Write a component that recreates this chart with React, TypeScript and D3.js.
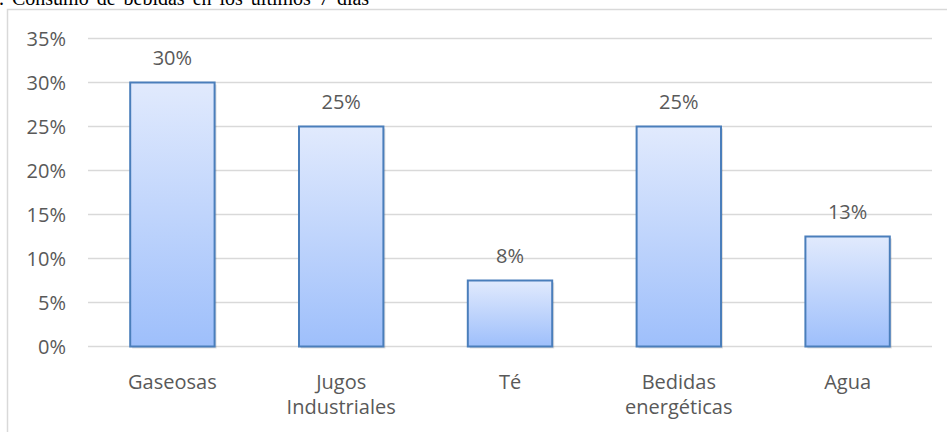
import React from "react";
import * as d3 from "d3";

const categories: string[][] = [
  ["Gaseosas"],
  ["Jugos", "Industriales"],
  ["Té"],
  ["Bedidas", "energéticas"],
  ["Agua"],
];
const values: number[] = [0.3, 0.25, 0.075, 0.25, 0.125];
const yTicks: number[] = [0, 0.05, 0.1, 0.15, 0.2, 0.25, 0.3, 0.35];
const title = ". Consumo de bebidas en los últimos 7 días";

const W = 947;
const H = 432;
const plot = { left: 88, right: 932, top: 38.5, bottom: 346.5 };
const FONT = "'Open Sans', sans-serif";
const TXT = "#595959";

export default function App() {
  const x = d3
    .scaleBand<number>()
    .domain(d3.range(values.length))
    .range([plot.left, plot.right])
    .paddingInner(0.5)
    .paddingOuter(0.25);
  const y = d3.scaleLinear().domain([0, 0.35]).range([plot.bottom, plot.top]);
  const fmt = d3.format(".0%");

  return (
    <svg
      width={W}
      height={H}
      style={{ position: "absolute", left: 0, top: 0, display: "block", background: "#fff" }}
    >
      <defs>
        <linearGradient id="barGrad" x1="0" y1="0" x2="0" y2="1">
          <stop offset="0%" stopColor="#e1eafd" />
          <stop offset="100%" stopColor="#9ebffb" />
        </linearGradient>
      </defs>
      <text
        x={-1}
        y={5}
        fontFamily="'Liberation Serif', 'Times New Roman', serif"
        fontSize={20}
        wordSpacing={3}
        fill="#000"
      >
        {title}
      </text>
      <rect x={7.5} y={9.5} width={W + 10} height={H + 10} fill="none" stroke="#d9d9d9" strokeWidth={1.5} />
      {yTicks.map((t) => (
        <g key={t}>
          <line x1={plot.left} x2={plot.right} y1={y(t)} y2={y(t)} stroke="#d9d9d9" strokeWidth={1.3} />
          <text
            x={66}
            y={y(t)}
            dy="0.35em"
            textAnchor="end"
            fontFamily={FONT}
            fontSize={20}
            fill={TXT}
          >
            {fmt(t)}
          </text>
        </g>
      ))}
      {values.map((v, i) => {
        const bx = x(i)!;
        const bw = x.bandwidth();
        const by = y(v);
        return (
          <g key={i}>
            <rect x={bx + 2} y={by + 2} width={bw} height={plot.bottom - by} fill="#000" opacity={0.12} />
            <rect
              x={bx}
              y={by}
              width={bw}
              height={plot.bottom - by}
              fill="url(#barGrad)"
              stroke="#4a7ebb"
              strokeWidth={2}
            />
            <text
              x={bx + bw / 2}
              y={by - 18}
              textAnchor="middle"
              fontFamily={FONT}
              fontSize={20}
              fill={TXT}
            >
              {fmt(v)}
            </text>
            {categories[i].map((line, j) => (
              <text
                key={j}
                x={bx + bw / 2}
                y={plot.bottom + 42 + j * 25}
                textAnchor="middle"
                fontFamily={FONT}
                fontSize={20}
                fill={TXT}
              >
                {line}
              </text>
            ))}
          </g>
        );
      })}
    </svg>
  );
}
